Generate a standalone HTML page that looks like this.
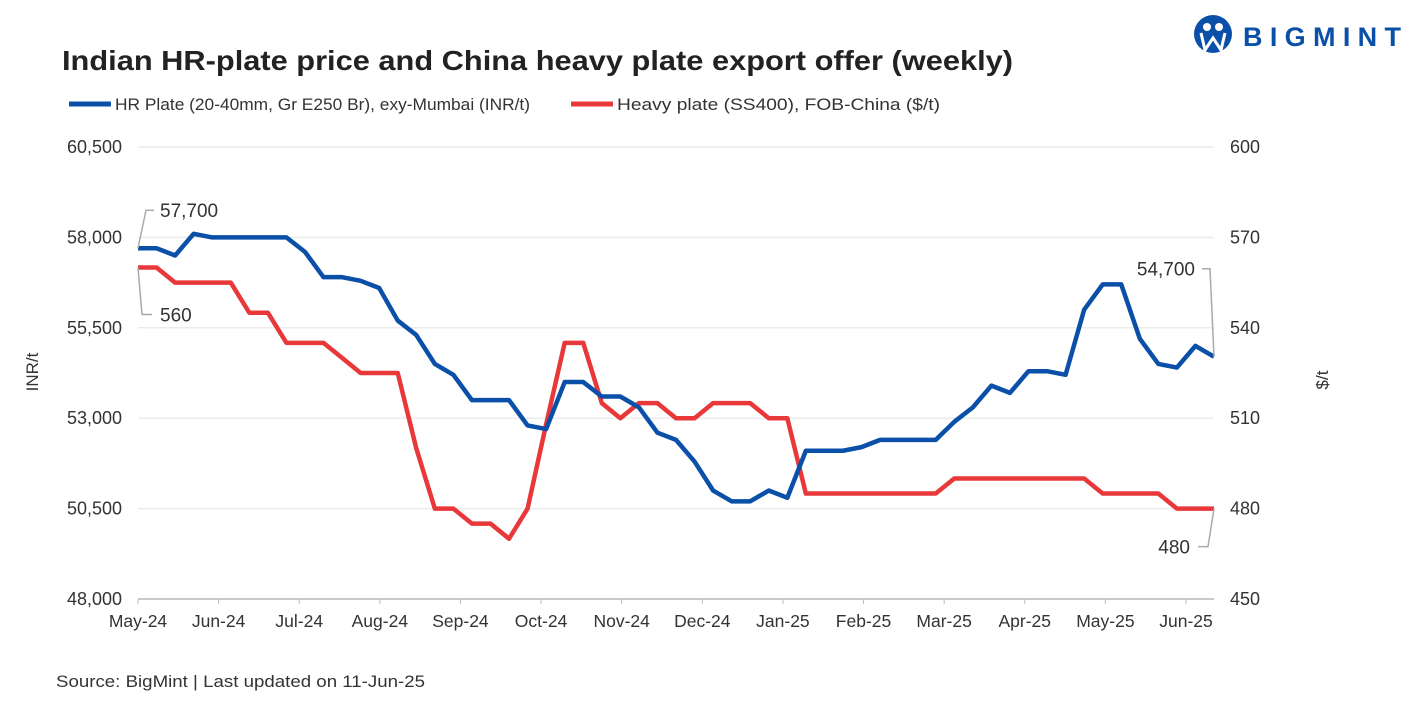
<!DOCTYPE html>
<html><head><meta charset="utf-8"><style>
body{margin:0;background:#fff;width:1417px;height:708px;overflow:hidden;font-family:"Liberation Sans",sans-serif}
</style></head><body>
<svg id="chart" width="1417" height="708" viewBox="0 0 1417 708" xmlns="http://www.w3.org/2000/svg" font-family="Liberation Sans, sans-serif">
<g>
<circle cx="1213" cy="34" r="19" fill="#0a4fa8"/>
<circle cx="1207" cy="27" r="4" fill="#fff"/><circle cx="1219" cy="27" r="4" fill="#fff"/>
<path d="M1201 33 L1205 50 L1213 38 L1221 50 L1225 33" stroke="#fff" stroke-width="3" fill="none"/>
<text x="1243" y="46" font-size="27" font-weight="bold" fill="#0a4fa8" textLength="158" lengthAdjust="spacing">BIGMINT</text>
</g>
<text x="62" y="70" font-size="28" font-weight="bold" fill="#222" textLength="951" lengthAdjust="spacingAndGlyphs">Indian HR-plate price and China heavy plate export offer (weekly)</text>
<g><line x1="69" y1="104" x2="111" y2="104" stroke="#0a4fa8" stroke-width="5"/><text x="115" y="110" font-size="17" fill="#333" textLength="415" lengthAdjust="spacingAndGlyphs">HR Plate (20-40mm, Gr E250 Br), exy-Mumbai (INR/t)</text></g>
<g><line x1="571" y1="104" x2="613" y2="104" stroke="#e8383a" stroke-width="5"/><text x="617" y="110" font-size="17" fill="#333" textLength="323" lengthAdjust="spacingAndGlyphs">Heavy plate (SS400), FOB-China ($/t)</text></g>
<g id="grid"></g><g id="axes"></g><g id="series"></g><g id="labels"></g>
<text transform="translate(38,372) rotate(-90)" text-anchor="middle" font-size="17" fill="#333">INR/t</text>
<text transform="translate(1328,380) rotate(-90)" text-anchor="middle" font-size="17" fill="#333">$/t</text>
<text x="56" y="687" font-size="17" fill="#333" textLength="369" lengthAdjust="spacingAndGlyphs">Source: BigMint | Last updated on 11-Jun-25</text>
</svg>
<script>
const monthLabels=["May-24","Jun-24","Jul-24","Aug-24","Sep-24","Oct-24","Nov-24","Dec-24","Jan-25","Feb-25","Mar-25","Apr-25","May-25","Jun-25"];
const leftTicks=[48000,50500,53000,55500,58000,60500];
const rightTicks=[450,480,510,540,570,600];
const hrPlate=[57700,57700,57500,58100,58000,58000,58000,58000,58000,57600,56900,56900,56800,56600,55700,55300,54500,54200,53500,53500,53500,52800,52700,54000,54000,53600,53600,53300,52600,52400,51800,51000,50700,50700,51000,50800,52100,52100,52100,52200,52400,52400,52400,52400,52900,53300,53900,53700,54300,54300,54200,56000,56700,56700,55200,54500,54400,55000,54700];
const heavyPlate=[560,560,555,555,555,555,545,545,535,535,535,530,525,525,525,500,480,480,475,475,470,480,508,535,535,515,510,515,515,510,510,515,515,515,510,510,485,485,485,485,485,485,485,485,490,490,490,490,490,490,490,490,485,485,485,485,480,480,480];
const NS='http://www.w3.org/2000/svg';
const X0=138,X1=1214,YT=147,YB=599;
const n=hrPlate.length;
const xIdx=i=>X0+(X1-X0)*i/(n-1);
const xMonth=m=>X0+m*(1186-X0)/13;
const yL=v=>YB-(v-48000)/(60500-48000)*(YB-YT);
const yR=v=>YB-(v-450)/(600-450)*(YB-YT);
function mk(tag,attrs,parent,text){const e=document.createElementNS(NS,tag);for(const k in attrs)e.setAttribute(k,attrs[k]);if(text!==undefined)e.textContent=text;document.getElementById(parent).appendChild(e);return e;}
leftTicks.forEach((v,i)=>{
 const g=mk('line',{x1:X0,x2:X1,y1:yL(v),y2:yL(v),stroke:'#ececec','stroke-width':1.5},'grid');
 
 
 const t=mk('text',{x:122,y:yL(v)+6,'text-anchor':'end','font-size':18,fill:'#333'},'axes',v.toLocaleString('en-US'));
 
 
});
rightTicks.forEach(v=>{
 const t=mk('text',{x:1230,y:yR(v)+6,'font-size':18,fill:'#333'},'axes',String(v));
 
 
});
const ax=mk('line',{x1:X0,x2:X1,y1:YB,y2:YB,stroke:'#bbb','stroke-width':1.5},'axes');


monthLabels.forEach((m,i)=>{
 const tk=mk('line',{x1:xMonth(i),x2:xMonth(i),y1:YB,y2:YB+5,stroke:'#bbb'},'axes');
 
 
 const t=mk('text',{x:xMonth(i),y:627,'text-anchor':'middle','font-size':17.5,fill:'#333'},'axes',m);
 
 
});
const pR=mk('polyline',{points:heavyPlate.map((v,i)=>xIdx(i)+','+yR(v)).join(' '),fill:'none',stroke:'#e8383a','stroke-width':4.5,'stroke-linejoin':'round'},'series');


const pB=mk('polyline',{points:hrPlate.map((v,i)=>xIdx(i)+','+yL(v)).join(' '),fill:'none',stroke:'#0a4fa8','stroke-width':4.5,'stroke-linejoin':'round'},'series');


function callout(path,tx,ty,anchor,txt,name){
 const p=mk('path',{d:path,stroke:'#aaa','stroke-width':1.5,fill:'none'},'labels');
 
 
 const t=mk('text',{x:tx,y:ty,'text-anchor':anchor,'font-size':19,fill:'#333'},'labels',txt);
 
 
}
const b0=yL(hrPlate[0]),r0=yR(heavyPlate[0]),bL=yL(hrPlate[n-1]),rL=yR(heavyPlate[n-1]);
callout(`M${X0} ${b0} L146 ${b0-38} L154 ${b0-38}`,160,b0-31,'start',hrPlate[0].toLocaleString('en-US'),'first-hr-label');
callout(`M${X0} ${r0} L142 ${r0+47} L152 ${r0+47}`,160,r0+54,'start',String(heavyPlate[0]),'first-heavy-label');
callout(`M${X1} ${bL} L1210 ${bL-88} L1202 ${bL-88}`,1195,bL-81,'end',hrPlate[n-1].toLocaleString('en-US'),'last-hr-label');
callout(`M${X1} ${rL} L1208 ${rL+38} L1198 ${rL+38}`,1190,rL+45,'end',String(heavyPlate[n-1]),'last-heavy-label');
</script>
</body></html>
